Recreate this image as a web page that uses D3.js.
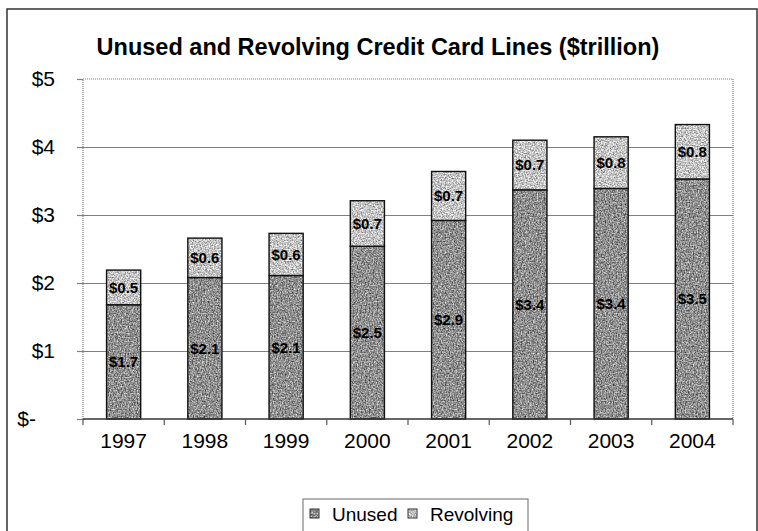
<!DOCTYPE html>
<html>
<head>
<meta charset="utf-8">
<script src="https://cdn.jsdelivr.net/npm/d3@7"></script>
<style>
  body { margin: 0; background: #fff; }
  svg { display: block; font-family: "Liberation Sans", Arial, sans-serif; }
</style>
</head>
<body>
<script>
// Credit card lines, trillions of dollars
const years = ["1997", "1998", "1999", "2000", "2001", "2002", "2003", "2004"];
const unused = [1.68, 2.08, 2.11, 2.54, 2.92, 3.37, 3.39, 3.53];
const revolving = [0.51, 0.58, 0.62, 0.67, 0.72, 0.73, 0.76, 0.80];
const seriesNames = ["Unused", "Revolving"];
const yTicks = [0, 1, 2, 3, 4, 5];
const titleText = "Unused and Revolving Credit Card Lines ($trillion)";

const W = 758, H = 531;
const plot = { left: 83, right: 733, top: 79, bottom: 419 };

const svg = d3.select("body").append("svg").attr("width", W).attr("height", H);
const defs = svg.append("defs");

// speckled grey fills, one per series
function speckle(id, base, seed) {
  const f = defs.append("filter").attr("id", id)
    .attr("filterUnits", "userSpaceOnUse")
    .attr("color-interpolation-filters", "sRGB")
    .attr("x", 0).attr("y", 0).attr("width", W).attr("height", H);
  f.append("feTurbulence").attr("type", "fractalNoise")
    .attr("baseFrequency", 0.75).attr("numOctaves", 3).attr("seed", seed).attr("result", "n");
  const k = 1.1, off = base - k * 0.5;
  f.append("feColorMatrix").attr("in", "n").attr("type", "matrix")
    .attr("values", `${k} 0 0 0 ${off}  ${k} 0 0 0 ${off}  ${k} 0 0 0 ${off}  0 0 0 0 1`)
    .attr("result", "g");
  f.append("feComposite").attr("in", "g").attr("in2", "SourceGraphic").attr("operator", "in");
}
speckle("tex-unused", 0.56, 3);
speckle("tex-revolving", 0.77, 7);
const texIds = ["tex-unused", "tex-revolving"];

// outer chart frame
svg.append("rect").attr("x", 7).attr("y", 9).attr("width", 750).attr("height", 540)
  .attr("fill", "#fff").attr("stroke", "#333").attr("stroke-width", 1.5);

// title
svg.append("text").attr("x", 378).attr("y", 55).attr("text-anchor", "middle")
  .attr("font-size", 23.5).attr("font-weight", "bold").attr("fill", "#000")
  .text(titleText);

const x = d3.scaleBand().domain(years).range([plot.left, plot.right])
  .paddingInner(0.58).paddingOuter(0.29);
const y = d3.scaleLinear().domain([0, 5]).range([plot.bottom, plot.top]);

// horizontal gridlines
const grid = svg.append("g").attr("transform", `translate(${plot.left},0)`)
  .call(d3.axisLeft(y).tickValues([1, 2, 3, 4]).tickSize(-(plot.right - plot.left)).tickFormat(""));
grid.select(".domain").remove();
grid.selectAll("line").attr("stroke", "#808080").attr("stroke-width", 1.2);

// plot area border (dotted)
svg.append("path")
  .attr("d", `M${plot.left},${plot.bottom}V${plot.top}H${plot.right}V${plot.bottom}`)
  .attr("fill", "none").attr("stroke", "#7a7a7a").attr("stroke-width", 1.2)
  .attr("stroke-dasharray", "1,1");

// y axis
const yAxis = svg.append("g").attr("transform", `translate(${plot.left},0)`)
  .call(d3.axisLeft(y).tickValues(yTicks).tickSize(6).tickPadding(22)
    .tickFormat(d => d === 0 ? "$-" : "$" + d));
yAxis.select(".domain").remove();
yAxis.selectAll("line").attr("stroke", "#808080").attr("stroke-width", 1.2);
yAxis.selectAll("text").attr("font-size", 21).attr("fill", "#000")
  .attr("font-family", "Liberation Sans, Arial, sans-serif")
  .attr("dx", d => d === 0 ? -19 : 0);

// stacked bars
const stacked = years.map((yr, i) => ({ yr, vals: [unused[i], revolving[i]] }));
const barG = svg.append("g");
stacked.forEach(d => {
  let acc = 0;
  d.vals.forEach((v, s) => {
    const y0 = acc, y1 = acc + v;
    acc = y1;
    barG.append("rect")
      .attr("x", x(d.yr)).attr("width", x.bandwidth())
      .attr("y", y(y1)).attr("height", y(y0) - y(y1))
      .attr("fill", "#000").attr("filter", `url(#${texIds[s]})`);
    barG.append("rect")
      .attr("x", x(d.yr)).attr("width", x.bandwidth())
      .attr("y", y(y1)).attr("height", y(y0) - y(y1))
      .attr("fill", "none").attr("stroke", "#111").attr("stroke-width", 1.4);
    barG.append("text")
      .attr("x", x(d.yr) + x.bandwidth() / 2)
      .attr("y", (y(y0) + y(y1)) / 2)
      .attr("dy", "0.36em").attr("text-anchor", "middle")
      .attr("font-size", 15).attr("font-weight", "bold").attr("fill", "#000")
      .text("$" + d3.format(".1f")(v));
  });
});

// x axis
const xAxis = svg.append("g").attr("transform", `translate(0,${plot.bottom})`)
  .call(d3.axisBottom(x).tickSize(0).tickPadding(14));
xAxis.select(".domain").remove();
xAxis.selectAll("text").attr("font-size", 21).attr("fill", "#000")
  .attr("font-family", "Liberation Sans, Arial, sans-serif");
svg.append("line").attr("x1", plot.left).attr("x2", plot.right)
  .attr("y1", plot.bottom).attr("y2", plot.bottom)
  .attr("stroke", "#333").attr("stroke-width", 1.4);
const bounds = years.map(yr => x(yr) - x.step() * x.paddingInner() / 2).concat([plot.right]);
svg.append("g").selectAll("line").data(bounds).join("line")
  .attr("x1", d => d).attr("x2", d => d)
  .attr("y1", plot.bottom).attr("y2", plot.bottom + 6)
  .attr("stroke", "#555").attr("stroke-width", 1.2);

// legend
const lg = svg.append("g");
lg.append("rect").attr("x", 303).attr("y", 499).attr("width", 225).attr("height", 50)
  .attr("fill", "#fff").attr("stroke", "#808080").attr("stroke-width", 1.2);
const legendX = [310, 408];
seriesNames.forEach((name, s) => {
  lg.append("rect").attr("x", legendX[s]).attr("y", 509).attr("width", 9).attr("height", 9)
    .attr("fill", "#000").attr("filter", `url(#${texIds[s]})`);
  lg.append("rect").attr("x", legendX[s]).attr("y", 509).attr("width", 9).attr("height", 9)
    .attr("fill", "none").attr("stroke", "#333").attr("stroke-width", 1);
  lg.append("text").attr("x", legendX[s] + 22).attr("y", 521)
    .attr("font-size", 19).attr("fill", "#000").text(name);
});
</script>
</body>
</html>
